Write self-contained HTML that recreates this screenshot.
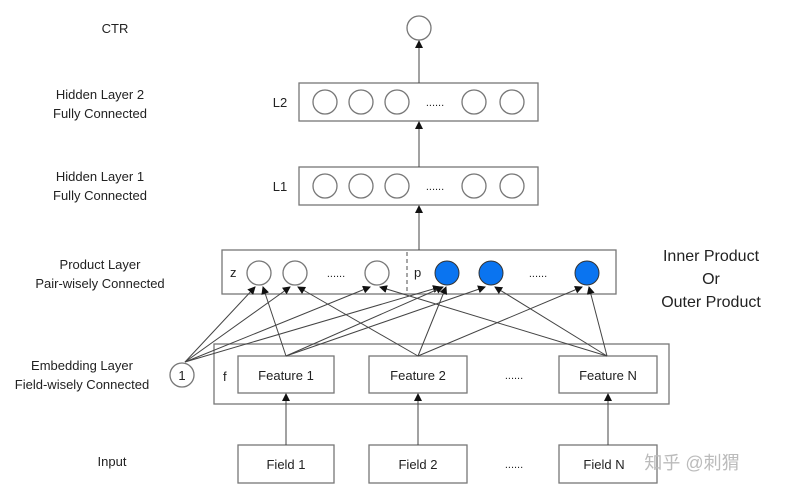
<html><head><style>body{margin:0;background:#fff}svg{display:block}text{font-family:"Liberation Sans",sans-serif;fill:#222}</style></head><body>
<svg width="796" height="504" viewBox="0 0 796 504">
<defs><marker id="a" markerWidth="8" markerHeight="8" refX="7" refY="4" orient="auto" markerUnits="userSpaceOnUse"><path d="M0,0L8,4L0,8z" fill="#111"/></marker></defs>
<g font-size="13" text-anchor="middle">
<text x="115" y="33">CTR</text>
<text x="100" y="99">Hidden Layer 2</text><text x="100" y="118">Fully Connected</text>
<text x="100" y="181">Hidden Layer 1</text><text x="100" y="200">Fully Connected</text>
<text x="100" y="269">Product Layer</text><text x="100" y="288">Pair-wisely Connected</text>
<text x="82" y="370">Embedding Layer</text><text x="82" y="389">Field-wisely Connected</text>
<text x="112" y="466">Input</text>
<text x="280" y="107">L2</text><text x="280" y="191">L1</text>
</g>
<g font-size="16" text-anchor="middle"><text x="711" y="261">Inner Product</text><text x="711" y="284">Or</text><text x="711" y="307">Outer Product</text></g>
<g fill="none" stroke="#777" stroke-width="1.3">
<circle cx="419" cy="28" r="12"/>
<rect x="299" y="83" width="239" height="38"/><rect x="299" y="167" width="239" height="38"/>
<rect x="222" y="250" width="394" height="44"/>
<rect x="214" y="344" width="455" height="60"/>
<rect x="238" y="356" width="96" height="37"/><rect x="369" y="356" width="98" height="37"/><rect x="559" y="356" width="98" height="37"/>
<rect x="238" y="445" width="96" height="38"/><rect x="369" y="445" width="98" height="38"/><rect x="559" y="445" width="98" height="38"/>
<circle cx="182" cy="375" r="12"/>
<line x1="407" y1="252" x2="407" y2="292" stroke-dasharray="4,3"/>
</g>
<g fill="#fff" stroke="#777" stroke-width="1.3">
<circle cx="325" cy="102" r="12"/><circle cx="361" cy="102" r="12"/><circle cx="397" cy="102" r="12"/><circle cx="474" cy="102" r="12"/><circle cx="512" cy="102" r="12"/>
<circle cx="325" cy="186" r="12"/><circle cx="361" cy="186" r="12"/><circle cx="397" cy="186" r="12"/><circle cx="474" cy="186" r="12"/><circle cx="512" cy="186" r="12"/>
<circle cx="259" cy="273" r="12"/><circle cx="295" cy="273" r="12"/><circle cx="377" cy="273" r="12"/>
</g>
<g fill="#0a74f0" stroke="#333" stroke-width="1"><circle cx="447" cy="273" r="12"/><circle cx="491" cy="273" r="12"/><circle cx="587" cy="273" r="12"/></g>
<g font-size="11" text-anchor="middle"><text x="435" y="106">......</text><text x="435" y="190">......</text><text x="336" y="277">......</text><text x="538" y="277">......</text><text x="514" y="379">......</text><text x="514" y="468">......</text></g>
<g font-size="13"><text x="230" y="277">z</text><text x="414" y="277">p</text><text x="223" y="381">f</text></g>
<g font-size="13" text-anchor="middle"><text x="182" y="380">1</text><text x="286" y="380">Feature 1</text><text x="418" y="380">Feature 2</text><text x="608" y="380">Feature N</text><text x="286" y="469">Field 1</text><text x="418" y="469">Field 2</text><text x="604" y="469">Field N</text></g>
<text x="692" y="469" font-size="18" style="fill:#bbb;font-family:'Liberation Sans','Noto Sans CJK SC',sans-serif" text-anchor="middle">知乎 @刺猬</text>
<g stroke="#444" stroke-width="1" marker-end="url(#a)">
<line x1="419" y1="83" x2="419" y2="41"/><line x1="419" y1="167" x2="419" y2="122"/><line x1="419" y1="250" x2="419" y2="206"/>
<line x1="286" y1="445" x2="286" y2="394"/><line x1="418" y1="445" x2="418" y2="394"/><line x1="608" y1="445" x2="608" y2="394"/>
<line x1="185" y1="362" x2="255" y2="287"/><line x1="185" y1="362" x2="290" y2="287"/><line x1="185" y1="362" x2="370" y2="287"/><line x1="185" y1="362" x2="440" y2="287"/>
<line x1="286" y1="356" x2="263" y2="287"/><line x1="286" y1="356" x2="443" y2="287"/><line x1="286" y1="356" x2="485" y2="287"/>
<line x1="418" y1="356" x2="298" y2="287"/><line x1="418" y1="356" x2="446" y2="287"/><line x1="418" y1="356" x2="582" y2="287"/>
<line x1="607" y1="356" x2="380" y2="287"/><line x1="607" y1="356" x2="495" y2="287"/><line x1="607" y1="356" x2="589" y2="287"/>
</g>
</svg></body></html>
